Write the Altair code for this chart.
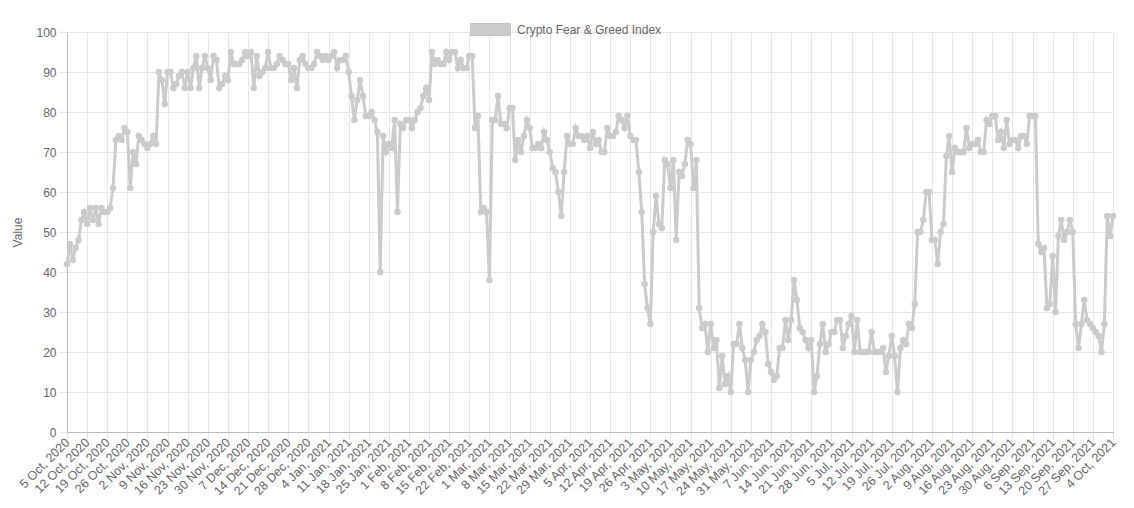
import altair as alt
import pandas as pd

start_date = "2020-10-05"
series_name = "Crypto Fear & Greed Index"

values = [
    42, 47, 43, 46, 48, 53, 55, 52, 56, 53,
    56, 52, 56, 55, 55, 56, 61, 73, 74, 73,
    76, 75, 61, 70, 67, 74, 73, 72, 71, 72,
    74, 72, 90, 88, 82, 90, 90, 86, 87, 89,
    90, 86, 90, 86, 91, 94, 86, 91, 94, 91,
    88, 94, 93, 86, 87, 89, 88, 95, 92, 92,
    92, 93, 95, 94, 95, 86, 94, 89, 90, 91,
    95, 91, 91, 92, 94, 93, 92, 92, 88, 91,
    86, 93, 94, 92, 91, 91, 92, 95, 94, 93,
    94, 93, 94, 95, 91, 93, 93, 94, 90, 84,
    78, 83, 88, 84, 79, 79, 80, 78, 75, 40,
    74, 70, 72, 71, 78, 55, 77, 76, 78, 78,
    76, 78, 80, 81, 84, 86, 83, 95, 92, 93,
    92, 92, 95, 93, 95, 95, 91, 93, 91, 91,
    94, 94, 76, 79, 55, 56, 55, 38, 78, 78,
    84, 77, 77, 76, 81, 81, 68, 73, 70, 74,
    78, 76, 71, 71, 72, 71, 75, 73, 70, 66,
    65, 60, 54, 65, 74, 72, 72, 76, 74, 74,
    73, 74, 71, 75, 72, 73, 70, 70, 76, 74,
    74, 75, 79, 78, 76, 79, 74, 73, 73, 65,
    55, 37, 31, 27, 50, 59, 52, 51, 68, 67,
    61, 68, 48, 65, 64, 67, 73, 72, 61, 68,
    31, 26, 27, 20, 27, 21, 23, 11, 19, 12,
    14, 10, 22, 22, 27, 21, 18, 10, 18, 20,
    23, 24, 27, 25, 17, 15, 13, 14, 21, 21,
    28, 23, 28, 38, 33, 26, 25, 23, 21, 23,
    10, 14, 22, 27, 20, 22, 25, 25, 28, 28,
    21, 24, 27, 29, 20, 28, 20, 20, 20, 20,
    25, 20, 20, 20, 21, 15, 19, 24, 19, 10,
    21, 23, 22, 27, 26, 32, 50, 50, 53, 60,
    60, 48, 48, 42, 50, 52, 69, 74, 65, 71,
    70, 70, 70, 76, 71, 72, 72, 73, 70, 70,
    78, 77, 79, 79, 73, 75, 71, 78, 72, 73,
    73, 71, 74, 74, 72, 79, 79, 79, 47, 45,
    46, 31, 32, 44, 30, 49, 53, 48, 50, 53,
    50, 27, 21, 27, 33, 28, 27, 26, 25, 24,
    20, 27, 54, 49, 54,
]

dates = pd.date_range(start_date, periods=len(values), freq="D")
tick_dates = pd.date_range(start_date, periods=53, freq="7D")

df = pd.DataFrame({
    "date": dates.strftime("%Y-%m-%dT00:00:00"),
    "value": values,
    "series": [series_name] * len(values),
})

tick_values = [alt.DateTime(year=int(d.year), month=int(d.month), date=int(d.day)) for d in tick_dates]

FONT = "Liberation Sans"
LINE = "#cbcbcb"
GRID = "#e6e6e6"

x_enc = alt.X(
    "date:T",
    scale=alt.Scale(domain=[alt.DateTime(year=2020, month=10, date=5), alt.DateTime(year=2021, month=10, date=4)], nice=False),
    axis=alt.Axis(
        values=tick_values, format="%-d %b, %Y", labelAngle=-45, labelAlign="right",
        labelBaseline="middle", labelOverlap=False, labelFlush=False, labelBound=False,
        title=None, tickSize=8, labelPadding=0, labelFontSize=12.5,
    ),
)
y_enc = alt.Y(
    "value:Q",
    scale=alt.Scale(domain=[0, 100], nice=False),
    axis=alt.Axis(values=list(range(0, 101, 10)), title="Value", tickSize=8, labelPadding=3, titlePadding=11),
)

base = alt.Chart(df)

line = base.mark_line(color=LINE, strokeWidth=3).encode(x=x_enc, y=y_enc)
points = base.mark_point(filled=True, size=42, opacity=1).encode(
    x=x_enc,
    y=y_enc,
    color=alt.Color(
        "series:N",
        scale=alt.Scale(range=[LINE]),
        legend=alt.Legend(
            title=None, orient="none", legendX=403, legendY=-23,
            symbolType="M-1,-0.3H1V0.3H-1Z", symbolSize=1600,
            symbolStrokeColor="#c4c4c4", symbolStrokeWidth=1, symbolOpacity=1,
            labelFont=FONT, labelFontSize=12, labelColor="#666666", labelOffset=6,
            padding=0,
        ),
    ),
)

chart = alt.layer(line, points).properties(
    width=1046, height=400,
    padding={"left": 59, "top": 24, "right": 13, "bottom": 68},
    autosize="none",
).configure_view(stroke=None).configure_axis(
    gridColor=GRID, tickColor=GRID, domainColor="#bdbdbd",
    labelFont=FONT, labelFontSize=12, labelColor="#666666",
    titleFont=FONT, titleFontSize=12, titleColor="#666666", titleFontWeight="normal",
)

chart.save("out.html", embed_options={"renderer": "svg", "actions": False})
